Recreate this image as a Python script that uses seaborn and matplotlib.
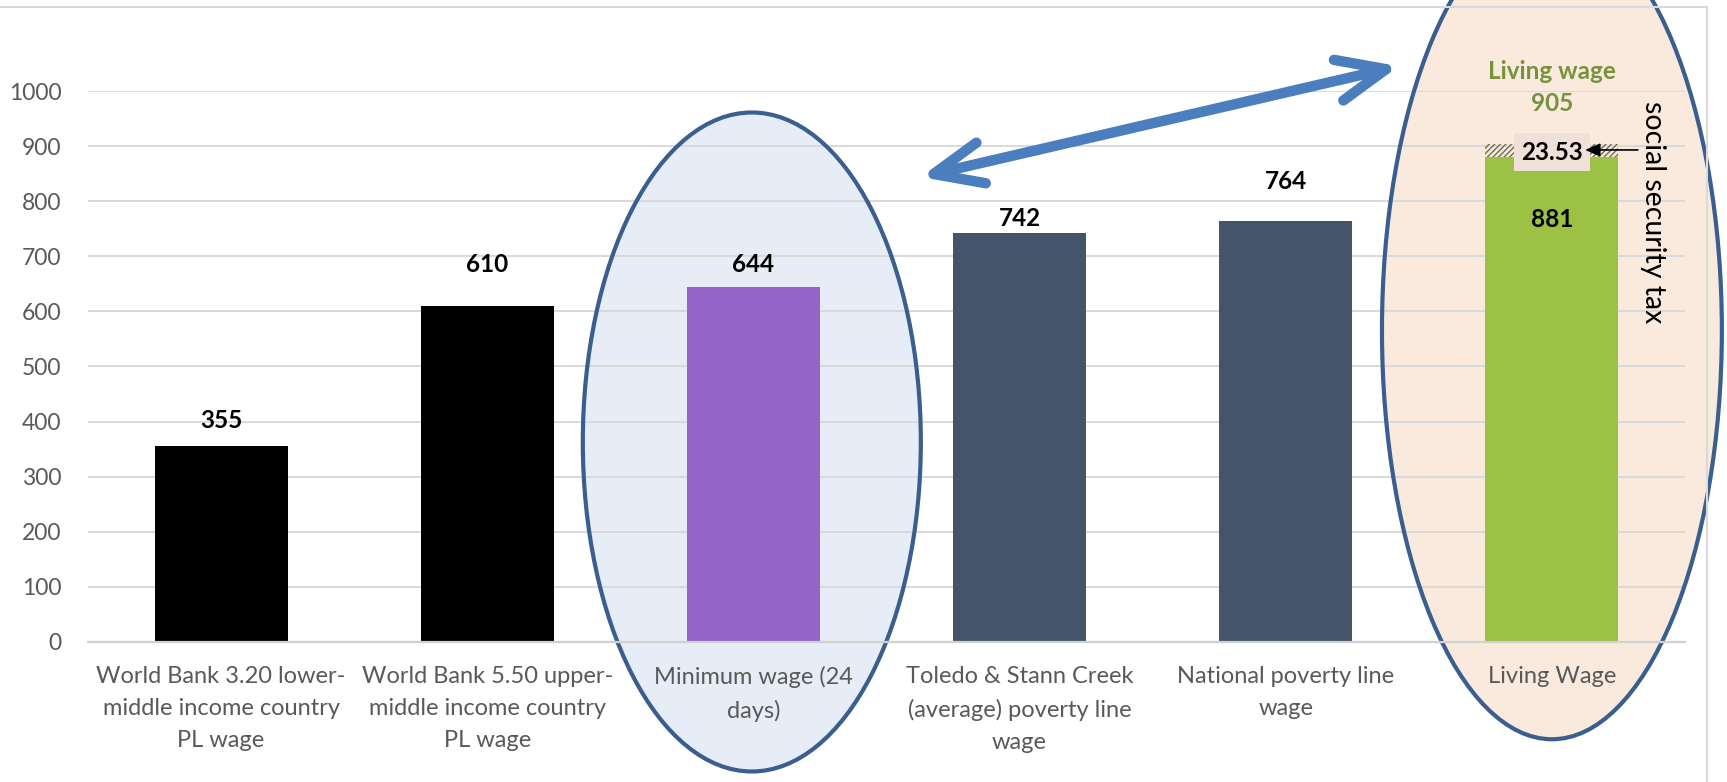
import matplotlib
matplotlib.use("Agg")
import matplotlib.pyplot as plt
import seaborn as sns
from matplotlib.patches import Ellipse, FancyArrowPatch
from matplotlib.lines import Line2D

# ---------------- data ----------------
categories = [
    "World Bank 3.20 lower-\nmiddle income country\nPL wage",
    "World Bank 5.50 upper-\nmiddle income country\nPL wage",
    "Minimum wage (24\ndays)",
    "Toledo & Stann Creek\n(average) poverty line\nwage",
    "National poverty line\nwage",
    "Living Wage",
]
values = [355, 610, 644, 742, 764, 881]
social_security_tax = 23.53
living_wage_total = 905
yticks = [0, 100, 200, 300, 400, 500, 600, 700, 800, 900, 1000]

# ---------------- style ----------------
bar_colors = ["#000000", "#000000", "#9464C9", "#44546A", "#44546A", "#9CC145"]
label_offsets = [47, 76, 42, 27, 71]   # value-label positions above bars (layout)

sns.set_theme(style="white")
plt.rcParams["font.family"] = ["Lato", "DejaVu Sans"]
plt.rcParams["hatch.linewidth"] = 1.0

fig = plt.figure(figsize=(17.27, 7.82), dpi=100)
ax = fig.add_axes([0.05096, 0.17903, 0.92472, 0.70460])

sns.barplot(x=list(range(len(categories))), y=values, hue=list(range(len(categories))),
            palette=bar_colors, legend=False, width=0.5, saturation=1, ax=ax, zorder=2,
            linewidth=0, edgecolor="none")

# hatched social-security segment on top of living wage bar
ax.bar(5, social_security_tax, bottom=values[5], width=0.5, facecolor="none",
       edgecolor="#6E6E50", linewidth=0, hatch="//////", zorder=2)

ax.set_xlim(-0.5, 5.5)
ax.set_ylim(0, 1000)
ax.set_yticks(yticks)
ax.set_yticklabels([str(t) for t in yticks])
ax.set_xticks(range(len(categories)))
ax.set_xticklabels(categories, fontsize=17, color="#595959", linespacing=1.66)
ax.tick_params(axis="y", length=0, pad=19, labelsize=16.5, labelcolor="#595959")
ax.tick_params(axis="x", length=0, pad=17)
ax.set_xlabel("")
ax.set_ylabel("")
ax.set_axisbelow(True)
ax.yaxis.grid(True, color="#D9D9D9", linewidth=1.4)
ax.xaxis.grid(False)
for s in ["left", "right", "top"]:
    ax.spines[s].set_visible(False)
ax.spines["bottom"].set_color("#D0D0D0")
ax.spines["bottom"].set_linewidth(1.6)
ax.patch.set_alpha(0)

# highlight ellipses
edge = "#3A5E8E"
for (cx, cy, w, h, fc) in [(1.994, 363, 1.27, 1196, "#E7EDF6"),
                           (5.0, 566, 1.277, 1485, "#F9EADD")]:
    ax.add_patch(Ellipse((cx, cy), w, h, facecolor=fc, edgecolor="none",
                         zorder=0.1, clip_on=False))
    ax.add_patch(Ellipse((cx, cy), w, h, facecolor="none", edgecolor=edge,
                         linewidth=3, zorder=0.6, clip_on=False))

# value labels
vfs = 17.5
for i, (v, off) in enumerate(zip(values[:5], label_offsets)):
    ax.text(i, v + off, str(v), ha="center", va="center", fontsize=vfs,
            fontweight="bold", color="#000000", zorder=5)
ax.text(5, 766, str(values[5]), ha="center", va="center", fontsize=vfs,
        fontweight="bold", color="#000000", zorder=5)
ax.text(5, 889, f"{social_security_tax:.2f}", ha="center", va="center", fontsize=vfs,
        fontweight="bold", color="#000000", zorder=5,
        bbox=dict(boxstyle="square,pad=0.3", fc="#EFE1D8", ec="none"))
ax.text(5, 1035, "Living wage", ha="center", va="center", fontsize=vfs,
        fontweight="bold", color="#76933C", zorder=5, clip_on=False)
ax.text(5, 978, str(living_wage_total), ha="center", va="center", fontsize=vfs,
        fontweight="bold", color="#76933C", zorder=5)
ax.text(5.38, 982, "social security tax", ha="center", va="top", rotation=270,
        fontsize=20.5, color="#000000", zorder=5)

# small pointer arrow
ax.add_patch(FancyArrowPatch((5.323, 893), (5.125, 893), arrowstyle="-|>,head_length=9,head_width=4",
                             mutation_scale=1, color="#000000", linewidth=1.2,
                             shrinkA=0, shrinkB=0, zorder=6, clip_on=False))

# big double-headed arrow
big = FancyArrowPatch((2.629, 844), (4.425, 1045),
                      arrowstyle="<->,head_length=35,head_width=15",
                      mutation_scale=1, color="#4A7EBE", linewidth=7.5,
                      shrinkA=0, shrinkB=0, zorder=6, clip_on=False)
big.set_capstyle("round")
big.set_joinstyle("round")
ax.add_patch(big)

# outer frame lines (top and right)
fig.add_artist(Line2D([0, 0.9884], [0.991, 0.991], color="#D9D9D9", linewidth=1.5))
fig.add_artist(Line2D([0.9884, 0.9884], [0, 0.991], color="#D9D9D9", linewidth=1.5))

fig.savefig("out.png", dpi=100)
